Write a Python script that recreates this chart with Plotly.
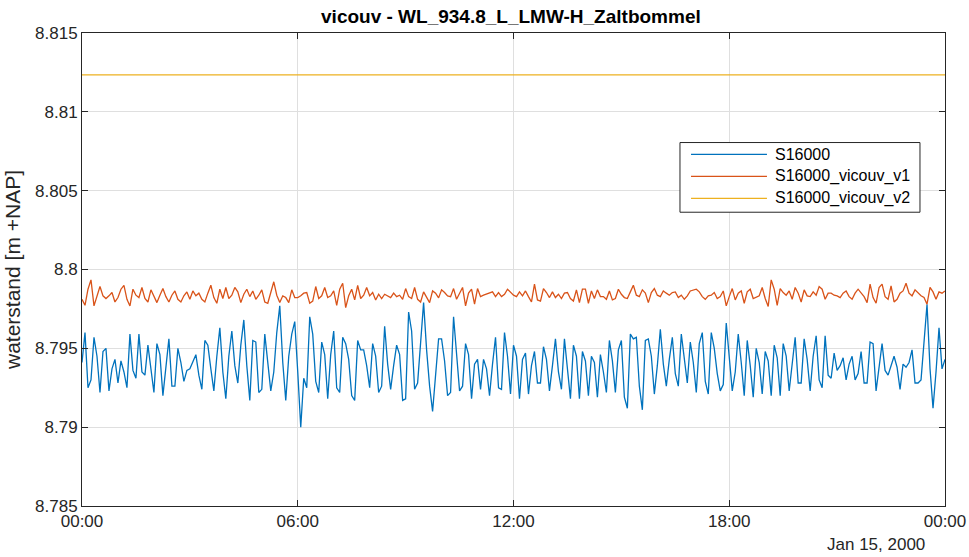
import pandas as pd
import plotly.graph_objects as go

# Water level at WL_934.8_L_LMW-H_Zaltbommel, 5-minute samples over one day
start_time = "2000-01-15 00:00"
step = "5min"

s16000 = [
    8.7941, 8.7960, 8.7925, 8.7930, 8.7957, 8.7945, 8.7922, 8.7948, 8.7950, 8.7923,
    8.7937, 8.7943, 8.7928, 8.7942, 8.7935, 8.7925, 8.7959, 8.7936, 8.7931, 8.7959,
    8.7935, 8.7933, 8.7952, 8.7936, 8.7922, 8.7953, 8.7946, 8.7920, 8.7939, 8.7956,
    8.7926, 8.7926, 8.7950, 8.7941, 8.7929, 8.7936, 8.7937, 8.7942, 8.7946, 8.7933,
    8.7924, 8.7955, 8.7952, 8.7937, 8.7923, 8.7945, 8.7963, 8.7935, 8.7918, 8.7945,
    8.7961, 8.7939, 8.7928, 8.7952, 8.7968, 8.7939, 8.7917, 8.7955, 8.7954, 8.7922,
    8.7924, 8.7959, 8.7941, 8.7923, 8.7935, 8.7960, 8.7977, 8.7941, 8.7917, 8.7945,
    8.7959, 8.7967, 8.7935, 8.7900, 8.7931, 8.7925, 8.7970, 8.7959, 8.7929, 8.7922,
    8.7954, 8.7946, 8.7918, 8.7946, 8.7961, 8.7925, 8.7922, 8.7957, 8.7953, 8.7943,
    8.7920, 8.7917, 8.7955, 8.7949, 8.7949, 8.7939, 8.7925, 8.7953, 8.7945, 8.7922,
    8.7926, 8.7964, 8.7940, 8.7924, 8.7939, 8.7952, 8.7946, 8.7917, 8.7918, 8.7973,
    8.7961, 8.7924, 8.7928, 8.7956, 8.7979, 8.7949, 8.7926, 8.7910, 8.7935, 8.7956,
    8.7956, 8.7942, 8.7920, 8.7922, 8.7970, 8.7945, 8.7923, 8.7926, 8.7953, 8.7946,
    8.7918, 8.7940, 8.7943, 8.7924, 8.7943, 8.7937, 8.7920, 8.7940, 8.7957, 8.7925,
    8.7924, 8.7960, 8.7945, 8.7921, 8.7952, 8.7945, 8.7918, 8.7943, 8.7947, 8.7921,
    8.7939, 8.7948, 8.7928, 8.7928, 8.7951, 8.7943, 8.7923, 8.7939, 8.7956, 8.7935,
    8.7924, 8.7956, 8.7939, 8.7918, 8.7952, 8.7945, 8.7918, 8.7948, 8.7942, 8.7920,
    8.7945, 8.7941, 8.7919, 8.7946, 8.7935, 8.7922, 8.7955, 8.7942, 8.7922, 8.7949,
    8.7955, 8.7919, 8.7912, 8.7959, 8.7956, 8.7957, 8.7926, 8.7911, 8.7955, 8.7956,
    8.7945, 8.7921, 8.7939, 8.7962, 8.7940, 8.7926, 8.7943, 8.7957, 8.7934, 8.7926,
    8.7959, 8.7943, 8.7928, 8.7954, 8.7941, 8.7922, 8.7953, 8.7960, 8.7929, 8.7921,
    8.7960, 8.7950, 8.7934, 8.7923, 8.7927, 8.7966, 8.7943, 8.7923, 8.7935, 8.7959,
    8.7941, 8.7920, 8.7955, 8.7939, 8.7919, 8.7950, 8.7941, 8.7921, 8.7948, 8.7942,
    8.7920, 8.7952, 8.7944, 8.7920, 8.7953, 8.7945, 8.7923, 8.7940, 8.7957, 8.7928,
    8.7928, 8.7956, 8.7943, 8.7923, 8.7945, 8.7958, 8.7930, 8.7925, 8.7958, 8.7933,
    8.7931, 8.7947, 8.7936, 8.7939, 8.7944, 8.7930, 8.7940, 8.7945, 8.7930, 8.7934,
    8.7948, 8.7928, 8.7928, 8.7954, 8.7953, 8.7923, 8.7939, 8.7953, 8.7936, 8.7933,
    8.7939, 8.7945, 8.7938, 8.7924, 8.7940, 8.7938, 8.7941, 8.7949, 8.7928, 8.7928,
    8.7930, 8.7953, 8.7978, 8.7937, 8.7912, 8.7935, 8.7963, 8.7937, 8.7943,
]

s16000_vicouv_v1 = [
    8.79811, 8.79773, 8.79875, 8.79934, 8.79769, 8.79833, 8.79892, 8.79833, 8.79816, 8.79833,
    8.79854, 8.79794, 8.79822, 8.79875, 8.79900, 8.79811, 8.79769, 8.79875, 8.79837, 8.79822,
    8.79886, 8.79816, 8.79794, 8.79871, 8.79833, 8.79790, 8.79837, 8.79879, 8.79828, 8.79794,
    8.79837, 8.79864, 8.79811, 8.79794, 8.79833, 8.79858, 8.79811, 8.79864, 8.79833, 8.79850,
    8.79811, 8.79794, 8.79850, 8.79900, 8.79822, 8.79786, 8.79875, 8.79816, 8.79886, 8.79816,
    8.79837, 8.79886, 8.79858, 8.79790, 8.79843, 8.79875, 8.79828, 8.79864, 8.79811, 8.79837,
    8.79871, 8.79794, 8.79786, 8.79854, 8.79922, 8.79837, 8.79790, 8.79833, 8.79822, 8.79790,
    8.79871, 8.79822, 8.79822, 8.79833, 8.79850, 8.79854, 8.79786, 8.79800, 8.79892, 8.79816,
    8.79833, 8.79886, 8.79822, 8.79833, 8.79864, 8.79773, 8.79875, 8.79913, 8.79758, 8.79833,
    8.79875, 8.79807, 8.79900, 8.79816, 8.79837, 8.79886, 8.79833, 8.79854, 8.79807, 8.79843,
    8.79816, 8.79843, 8.79833, 8.79822, 8.79850, 8.79828, 8.79837, 8.79811, 8.79879, 8.79828,
    8.79816, 8.79886, 8.79811, 8.79794, 8.79858, 8.79822, 8.79790, 8.79864, 8.79850, 8.79820,
    8.79871, 8.79854, 8.79833, 8.79828, 8.79879, 8.79811, 8.79850, 8.79886, 8.79769, 8.79850,
    8.79875, 8.79780, 8.79879, 8.79828, 8.79837, 8.79843, 8.79850, 8.79858, 8.79828, 8.79854,
    8.79828, 8.79843, 8.79875, 8.79854, 8.79837, 8.79828, 8.79858, 8.79833, 8.79864, 8.79828,
    8.79794, 8.79907, 8.79807, 8.79800, 8.79879, 8.79854, 8.79822, 8.79858, 8.79822, 8.79843,
    8.79816, 8.79850, 8.79854, 8.79816, 8.79800, 8.79871, 8.79790, 8.79875, 8.79875, 8.79786,
    8.79864, 8.79816, 8.79871, 8.79828, 8.79828, 8.79811, 8.79864, 8.79807, 8.79816, 8.79875,
    8.79843, 8.79822, 8.79816, 8.79858, 8.79900, 8.79837, 8.79828, 8.79871, 8.79850, 8.79790,
    8.79854, 8.79879, 8.79837, 8.79828, 8.79864, 8.79850, 8.79837, 8.79854, 8.79858, 8.79822,
    8.79837, 8.79811, 8.79833, 8.79864, 8.79871, 8.79875, 8.79858, 8.79828, 8.79811, 8.79833,
    8.79837, 8.79854, 8.79816, 8.79828, 8.79864, 8.79769, 8.79828, 8.79879, 8.79807, 8.79850,
    8.79864, 8.79786, 8.79858, 8.79875, 8.79816, 8.79822, 8.79833, 8.79886, 8.79816, 8.79765,
    8.79934, 8.79875, 8.79773, 8.79879, 8.79854, 8.79837, 8.79864, 8.79811, 8.79886, 8.79850,
    8.79794, 8.79871, 8.79833, 8.79828, 8.79858, 8.79837, 8.79892, 8.79875, 8.79811, 8.79850,
    8.79850, 8.79837, 8.79833, 8.79822, 8.79850, 8.79864, 8.79828, 8.79811, 8.79850, 8.79875,
    8.79854, 8.79828, 8.79790, 8.79907, 8.79822, 8.79786, 8.79886, 8.79907, 8.79828, 8.79811,
    8.79896, 8.79794, 8.79811, 8.79850, 8.79864, 8.79913, 8.79850, 8.79833, 8.79871, 8.79850,
    8.79833, 8.79822, 8.79780, 8.79886, 8.79858, 8.79811, 8.79858, 8.79850, 8.79864,
]

# The v2 run sits at a constant level over the whole day
s16000_vicouv_v2_level = 8.81235

series_names = ["S16000", "S16000_vicouv_v1", "S16000_vicouv_v2"]
series_colors = ["#0072BD", "#D95319", "#EDB120"]

y_tick_values = [8.785, 8.79, 8.795, 8.8, 8.805, 8.81, 8.815]
y_tick_labels = ["8.785", "8.79", "8.795", "8.8", "8.805", "8.81", "8.815"]
x_tick_labels = ["00:00", "06:00", "12:00", "18:00", "00:00"]
date_label = "Jan 15, 2000"
title_text = "vicouv - WL_934.8_L_LMW-H_Zaltbommel"
y_title = "waterstand [m +NAP]"

times = pd.date_range(start_time, periods=len(s16000), freq=step)
s16000_vicouv_v2 = [s16000_vicouv_v2_level] * len(times)
x_tick_values = pd.date_range(times[0], times[-1], freq="6h")

font_family = "Liberation Sans, Arial, sans-serif"
text_color = "#262626"
line_width = 1.3

fig = go.Figure()
for name, values, color in zip(series_names,
                               [s16000, s16000_vicouv_v1, s16000_vicouv_v2],
                               series_colors):
    fig.add_trace(go.Scatter(x=times, y=values, mode="lines", name=name,
                             showlegend=False,
                             line=dict(color=color, width=line_width)))

axis_common = dict(
    showline=True, linecolor=text_color, linewidth=1, mirror="ticks",
    ticks="inside", ticklen=6, tickcolor=text_color, tickwidth=1,
    showgrid=True, gridcolor="#dfdfdf", gridwidth=1, zeroline=False,
    automargin=False,
    tickfont=dict(family=font_family, size=17, color=text_color),
)

fig.update_xaxes(
    range=[times[0], times[-1]],
    tickvals=list(x_tick_values), ticktext=x_tick_labels,
    **axis_common,
)
fig.update_yaxes(
    range=[y_tick_values[0], y_tick_values[-1]],
    tickvals=y_tick_values, ticktext=y_tick_labels,
    title=dict(text=y_title, standoff=8,
               font=dict(family=font_family, size=21, color=text_color)),
    **axis_common,
)

fig.add_annotation(
    text=date_label, xref="paper", yref="paper", x=0.92, y=0,
    xanchor="center", yanchor="top", yshift=-27, showarrow=False,
    font=dict(family=font_family, size=17, color=text_color),
)

# Legend box in the upper right of the axes, MATLAB style
legend_box = dict(x0=0.6929, x1=0.9710, y0=0.6211, y1=0.7684)
legend_line_x = (0.7057, 0.7937)
legend_text_x = 0.8007
legend_rows_y = [0.7432, 0.6968, 0.6505]

fig.add_shape(type="rect", xref="paper", yref="paper", **legend_box,
              line=dict(color=text_color, width=1), fillcolor="white", layer="above")
for name, color, ly in zip(series_names, series_colors, legend_rows_y):
    fig.add_shape(type="line", xref="paper", yref="paper",
                  x0=legend_line_x[0], x1=legend_line_x[1], y0=ly, y1=ly,
                  line=dict(color=color, width=line_width), layer="above")
    fig.add_annotation(text=name, xref="paper", yref="paper", x=legend_text_x, y=ly,
                       xanchor="left", yanchor="middle", showarrow=False,
                       font=dict(family=font_family, size=16, color="black"))

fig.update_layout(
    width=969, height=557,
    margin=dict(l=82, r=24, t=33, b=51),
    paper_bgcolor="white", plot_bgcolor="white",
    title=dict(text="<b>" + title_text + "</b>", xref="paper", x=0.497,
               xanchor="center", y=0.982, yanchor="top",
               font=dict(family=font_family, size=19, color="black")),
    showlegend=False,
)

fig.write_html("out.html")
